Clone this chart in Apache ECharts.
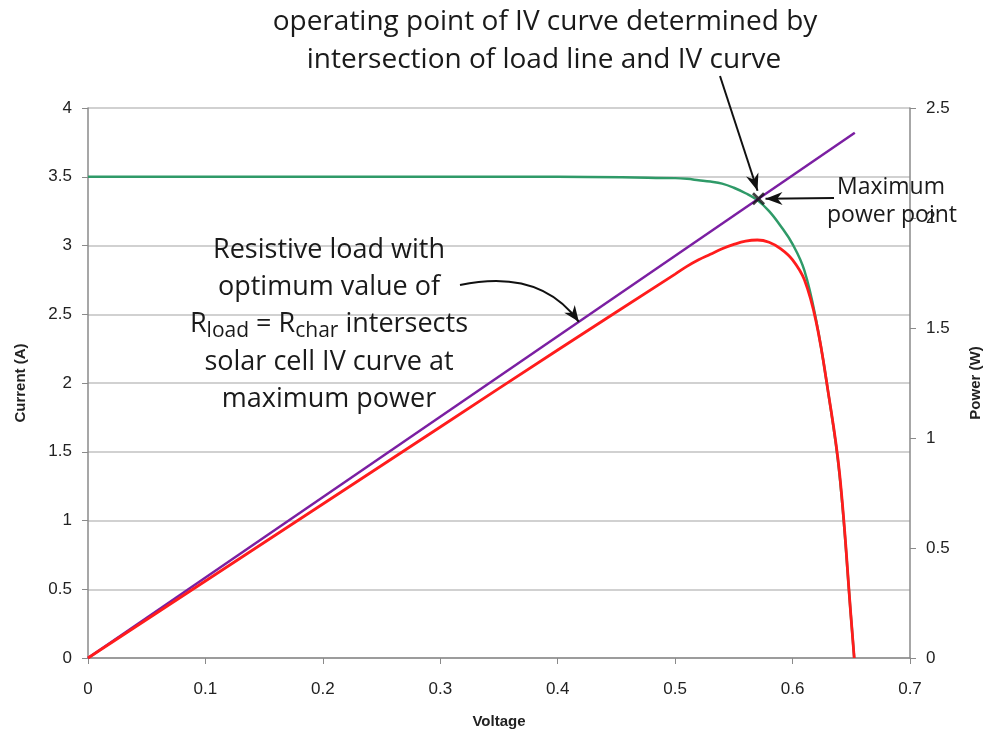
<!DOCTYPE html>
<html>
<head>
<meta charset="utf-8">
<script src="https://cdn.jsdelivr.net/npm/echarts@6/dist/echarts.min.js"></script>
<style>
html,body{margin:0;padding:0;background:#ffffff;overflow:hidden;}
#c{width:988px;height:733px;}
</style>
</head>
<body>
<div id="c"></div>
<script>
// ---- data ----
var ivVoltage = [0, 0.1, 0.2, 0.3, 0.4, 0.5, 0.51, 0.52, 0.53, 0.54, 0.55, 0.56, 0.57, 0.58, 0.59, 0.60, 0.61, 0.62, 0.63, 0.64, 0.65, 0.6525];
var ivCurrent = [3.5, 3.5, 3.5, 3.5, 3.5, 3.49, 3.485, 3.475, 3.465, 3.45, 3.42, 3.38, 3.33, 3.25, 3.14, 3.01, 2.82, 2.46, 1.95, 1.33, 0.27, 0];
var powerW    = [0, 0.35, 0.70, 1.05, 1.40, 1.745, 1.78, 1.81, 1.835, 1.86, 1.88, 1.895, 1.90, 1.89, 1.86, 1.81, 1.72, 1.53, 1.22, 0.84, 0.17, 0];
var loadVoltage = [0, 0.653];
var loadCurrent = [0, 3.82];
var mppPoint = [0.571, 3.34];
var curvedArrowTip = [0.418, 2.445];

var xTicks = {min: 0, max: 0.7, step: 0.1};
var yLeftTicks = {min: 0, max: 4, step: 0.5};
var yRightTicks = {min: 0, max: 2.5, step: 0.5};

function pairs(xs, ys) { return xs.map(function (x, i) { return [x, ys[i]]; }); }

var chart = echarts.init(document.getElementById('c'), null, {renderer: 'canvas', width: 988, height: 733});
var tickFont = {fontFamily: 'Liberation Sans, Arial, sans-serif', fontSize: 17, color: '#222'};
var axisNameFont = {fontFamily: 'Liberation Sans, Arial, sans-serif', fontSize: 15, fontWeight: 'bold', color: '#222'};

chart.setOption({
  backgroundColor: '#ffffff',
  animation: false,
  grid: {left: 88, right: 78, top: 108, bottom: 75, containLabel: false, outerBoundsMode: 'none'},
  xAxis: {
    type: 'value', min: xTicks.min, max: xTicks.max, interval: xTicks.step,
    name: 'Voltage', nameLocation: 'middle', nameGap: 56,
    nameTextStyle: axisNameFont,
    axisLine: {lineStyle: {color: '#8a8a8a', width: 1.5}},
    axisTick: {show: true, inside: false, length: 6, lineStyle: {color: '#8a8a8a'}},
    axisLabel: Object.assign({margin: 23}, tickFont),
    splitLine: {show: false}
  },
  yAxis: [{
    type: 'value', min: yLeftTicks.min, max: yLeftTicks.max, interval: yLeftTicks.step,
    name: 'Current (A)', nameLocation: 'middle', nameGap: 60, nameRotate: 90,
    nameTextStyle: axisNameFont,
    axisLine: {show: true, lineStyle: {color: '#8a8a8a', width: 1.5}},
    axisTick: {show: true, length: 6, lineStyle: {color: '#8a8a8a'}},
    axisLabel: Object.assign({margin: 16}, tickFont),
    splitLine: {show: true, lineStyle: {color: '#c2c2c2', width: 1.5}}
  }, {
    type: 'value', position: 'right', min: yRightTicks.min, max: yRightTicks.max, interval: yRightTicks.step,
    name: 'Power (W)', nameLocation: 'middle', nameGap: 58, nameRotate: 90,
    nameTextStyle: axisNameFont,
    axisLine: {show: true, lineStyle: {color: '#8a8a8a', width: 1.5}},
    axisTick: {show: true, length: 6, lineStyle: {color: '#8a8a8a'}},
    axisLabel: Object.assign({margin: 16}, tickFont),
    splitLine: {show: false}
  }],
  series: [{
    name: 'IV curve', type: 'line', yAxisIndex: 0, showSymbol: false, smooth: 0.4,
    data: pairs(ivVoltage, ivCurrent),
    lineStyle: {color: '#2f9a68', width: 2.5}, z: 2
  }, {
    name: 'Load line', type: 'line', yAxisIndex: 0, showSymbol: false,
    data: pairs(loadVoltage, loadCurrent),
    lineStyle: {color: '#7b1fa2', width: 2.5}, z: 3
  }, {
    name: 'Power', type: 'line', yAxisIndex: 1, showSymbol: false, smooth: 0.4,
    data: pairs(ivVoltage, powerW),
    lineStyle: {color: '#ff1c1c', width: 2.8}, z: 4
  }, {
    name: 'MPP', type: 'scatter', yAxisIndex: 0,
    data: [mppPoint],
    symbol: 'path://M0,1.5L1.5,0L5,3.5L8.5,0L10,1.5L6.5,5L10,8.5L8.5,10L5,6.5L1.5,10L0,8.5L3.5,5Z',
    symbolSize: 13, itemStyle: {color: '#111'}, z: 10
  }]
});

function arrowHead(tip, from, len, half) {
  var dx = tip[0] - from[0], dy = tip[1] - from[1];
  var d = Math.sqrt(dx * dx + dy * dy); dx /= d; dy /= d;
  var bx = tip[0] - dx * len, by = tip[1] - dy * len;
  var nx = tip[0] - dx * len * 0.7, ny = tip[1] - dy * len * 0.7;
  return {
    type: 'polygon',
    shape: {points: [tip, [bx - dy * half, by + dx * half], [nx, ny], [bx + dy * half, by - dx * half]]},
    style: {fill: '#111'}, z: 20
  };
}

var mpp = chart.convertToPixel({xAxisIndex: 0, yAxisIndex: 0}, mppPoint);
var ct = chart.convertToPixel({xAxisIndex: 0, yAxisIndex: 0}, curvedArrowTip);
var annFont = 'Open Sans, Noto Sans, sans-serif';

var a1from = [720, 76], a1tip = [mpp[0] - 1, mpp[1] - 8];
var a2from = [834, 198], a2tip = [mpp[0] + 7, mpp[1]];
var cStart = [460, 285], cCtrl = [540, 268];

function label(txt, x, y, size, extra) {
  var st = {text: txt, font: size + 'px ' + annFont, fill: '#1a1a1a', align: 'center', verticalAlign: 'middle'};
  if (extra) { for (var k in extra) st[k] = extra[k]; }
  return {type: 'text', x: x, y: y, style: st, z: 20};
}

chart.setOption({
  graphic: [
    label('operating point of IV curve determined by', 545, 22, 28),
    label('intersection of load line and IV curve', 544, 60, 28),
    {type: 'line', shape: {x1: a1from[0], y1: a1from[1], x2: a1tip[0], y2: a1tip[1]}, style: {stroke: '#111', lineWidth: 2}, z: 20},
    arrowHead(a1tip, a1from, 17, 6.5),
    {type: 'line', shape: {x1: a2from[0], y1: a2from[1], x2: a2tip[0], y2: a2tip[1]}, style: {stroke: '#111', lineWidth: 2}, z: 20},
    arrowHead(a2tip, a2from, 17, 6.5),
    label('Maximum', 891, 187, 23),
    label('power point', 892, 215, 23),
    label('Resistive load with', 329, 250, 27),
    label('optimum value of', 329, 287, 27),
    label('R{sub|load} = R{sub|char} intersects', 329, 324, 27,
      {rich: {sub: {fontFamily: annFont, fontSize: 21, fill: '#1a1a1a', padding: [15, 0, 0, 0]}}}),
    label('solar cell IV curve at', 329, 362, 27),
    label('maximum power', 329, 399, 27),
    {type: 'bezierCurve', shape: {x1: cStart[0], y1: cStart[1], x2: ct[0], y2: ct[1], cpx1: cCtrl[0], cpy1: cCtrl[1]}, style: {stroke: '#111', lineWidth: 2, fill: null}, z: 20},
    arrowHead(ct, cCtrl, 16, 6.5)
  ]
});
</script>
</body>
</html>
